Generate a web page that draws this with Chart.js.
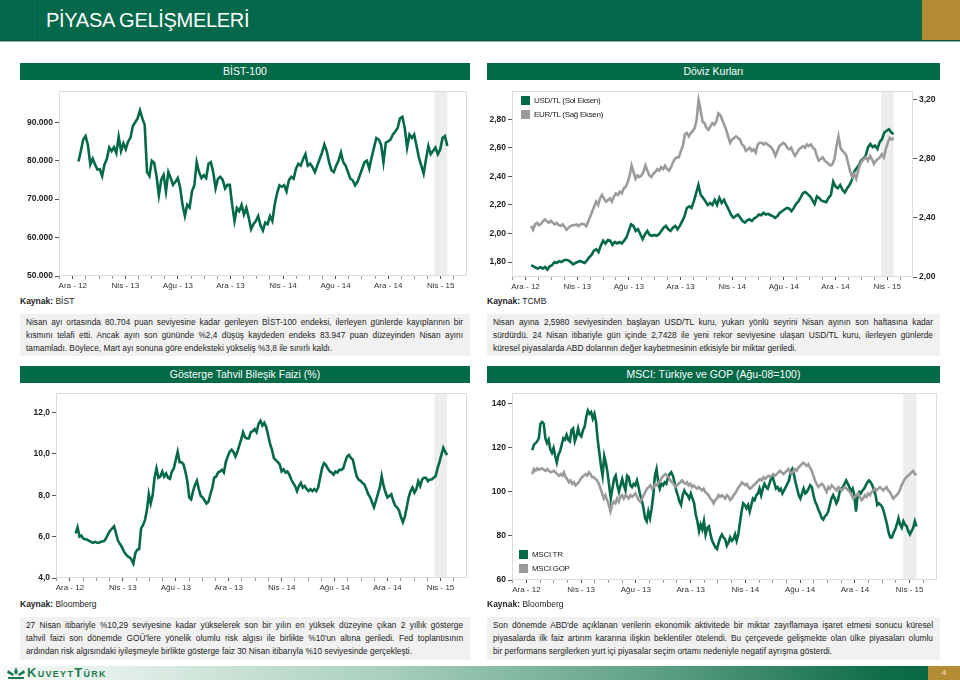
<!DOCTYPE html>
<html lang="tr"><head><meta charset="utf-8">
<script src="https://cdn.jsdelivr.net/npm/chart.js@4/dist/chart.umd.min.js"></script>
<style>
body{margin:0;width:960px;height:680px;position:relative;background:#fff;font-family:'Liberation Sans',Arial,sans-serif;overflow:hidden;color:#222}
.a{position:absolute}
#hdr{left:0;top:0;width:960px;height:40px;background:#03694a;border-bottom:1px solid #18503a;}
#hdrline{left:0;top:41px;width:960px;height:1px;background:#86b9a1}
#hdrstrip{left:37px;top:0;width:1px;height:40px;background:#045c41}
#gold{left:922px;top:0;width:38px;height:40px;background:#b38c34}
#title{left:46px;top:9px;font-size:20px;color:#fff;white-space:nowrap;letter-spacing:-0.3px}
.bar{height:17px;background:#036a47;color:#fff;font-size:10.5px;text-align:center;line-height:17px}
.src{font-size:8.5px;white-space:nowrap}
.src b{font-weight:bold}
.box{background:#f1f1f1;font-size:8.3px;line-height:13px;padding:2px 7px 0 6px;box-sizing:border-box}
.box span{display:block;white-space:nowrap}
.box span.j{text-align:justify;text-align-last:justify;white-space:normal}
.lg{font-size:8px;white-space:nowrap;line-height:9px;letter-spacing:-0.3px}
.lg i{display:inline-block;width:9px;height:9px;vertical-align:top;margin-right:4px}
canvas{position:absolute}
#foot{left:0;top:666px;width:960px;height:14px;background:linear-gradient(to right,#f7faf8 0%,#e3efe9 12%,#a9d0bd 40%,#5fa184 68%,#0f6c49 92%,#06663f 100%)}
#pg{left:928px;top:666px;width:32px;height:14px;background:#b38c34;color:#f3e7c4;font-size:8px;text-align:center;line-height:14px}
#logo{left:27px;top:665px;font-size:13px;font-weight:bold;font-variant:small-caps;color:#1c7a4f;letter-spacing:1.3px;white-space:nowrap}
</style></head>
<body>
<div id="hdr" class="a"></div><div id="hdrline" class="a"></div><div id="hdrstrip" class="a"></div><div id="gold" class="a"></div>
<div id="title" class="a">PİYASA GELİŞMELERİ</div>

<div class="a bar" style="left:20px;top:63px;width:450px">BİST-100</div>
<div class="a bar" style="left:487px;top:63px;width:453px">Döviz Kurları</div>
<div class="a bar" style="left:20px;top:366px;width:450px">Gösterge Tahvil Bileşik Faizi (%)</div>
<div class="a bar" style="left:487px;top:366px;width:453px">MSCI: Türkiye ve GOP (Ağu-08=100)</div>

<canvas id="c1" width="456" height="212" style="left:16px;top:84px"></canvas>
<canvas id="c2" width="453" height="212" style="left:487px;top:84px"></canvas>
<canvas id="c3" width="456" height="212" style="left:16px;top:386px"></canvas>
<canvas id="c4" width="456" height="212" style="left:487px;top:386px"></canvas>

<div class="a lg" style="left:521px;top:96px"><i style="background:#036a47"></i>USD/TL (Sol Eksen)</div>
<div class="a lg" style="left:521px;top:110px"><i style="background:#9a9a9a"></i>EUR/TL (Sağ Eksen)</div>
<div class="a lg" style="left:519px;top:550px"><i style="background:#036a47"></i>MSCI TR</div>
<div class="a lg" style="left:519px;top:564px"><i style="background:#9a9a9a"></i>MSCI GOP</div>

<div class="a src" style="left:20px;top:296px"><b>Kaynak:</b> BİST</div>
<div class="a src" style="left:487px;top:296px"><b>Kaynak:</b> TCMB</div>
<div class="a src" style="left:20px;top:599px"><b>Kaynak:</b> Bloomberg</div>
<div class="a src" style="left:487px;top:599px"><b>Kaynak:</b> Bloomberg</div>

<div class="a box" style="left:20px;top:314px;width:450px;height:42px">
<span class="j">Nisan ayı ortasında 80.704 puan seviyesine kadar gerileyen BİST-100 endeksi, ilerleyen günlerde kayıplarının bir</span>
<span class="j">kısmını telafi etti. Ancak ayın son gününde %2,4 düşüş kaydeden endeks 83.947 puan düzeyinden Nisan ayını</span>
<span>tamamladı. Böylece, Mart ayı sonuna göre endeksteki yükseliş %3,8 ile sınırlı kaldı.</span>
</div>
<div class="a box" style="left:487px;top:314px;width:453px;height:42px">
<span class="j">Nisan ayına 2,5980 seviyesinden başlayan USD/TL kuru, yukarı yönlü seyrini Nisan ayının son haftasına kadar</span>
<span class="j">sürdürdü. 24 Nisan itibariyle gün içinde 2,7428 ile yeni rekor seviyesine ulaşan USD/TL kuru, ilerleyen günlerde</span>
<span>küresel piyasalarda ABD dolarının değer kaybetmesinin etkisiyle bir miktar geriledi.</span>
</div>
<div class="a box" style="left:20px;top:617px;width:450px;height:43px">
<span class="j">27 Nisan itibariyle %10,29 seviyesine kadar yükselerek son bir yılın en yüksek düzeyine çıkan 2 yıllık gösterge</span>
<span class="j">tahvil faizi son dönemde GOÜ'lere yönelik olumlu risk algısı ile birlikte %10'un altına geriledi. Fed toplantısının</span>
<span>ardından risk algısındaki iyileşmeyle birlikte gösterge faiz 30 Nisan itibarıyla %10 seviyesinde gerçekleşti.</span>
</div>
<div class="a box" style="left:487px;top:617px;width:453px;height:43px">
<span class="j">Son dönemde ABD'de açıklanan verilerin ekonomik aktivitede bir miktar zayıflamaya işaret etmesi sonucu küresel</span>
<span class="j">piyasalarda ilk faiz artırım kararına ilişkin beklentiler ötelendi. Bu çerçevede gelişmekte olan ülke piyasaları olumlu</span>
<span>bir performans sergilerken yurt içi piyasalar seçim ortamı nedeniyle negatif ayrışma gösterdi.</span>
</div>

<div id="foot" class="a"></div>
<svg class="a" style="left:6px;top:666px" width="20" height="14" viewBox="0 0 20 14">
<g fill="#1c7a4f"><path d="M10 1 L12 6 L10 9 L8 6 Z"/><path d="M2 4 L8 8 L7 10 L1 7 Z"/><path d="M18 4 L12 8 L13 10 L19 7 Z"/><rect x="2" y="11" width="16" height="2"/></g>
</svg>
<div id="logo" class="a">KuveytTürk</div>
<div id="pg" class="a">4</div>

<script>
// ---- shared axis data ----
const xTickLabels = ['Ara - 12','Nis - 13','Ağu - 13','Ara - 13','Nis - 14','Ağu - 14','Ara - 14','Nis - 15'];
const seriesStart = [2012, 12, 28];
const seriesEnd = [2015, 4, 30];
const aprilBand = [[2015, 4, 1], [2015, 4, 30]];

// ---- BİST-100 ----
const bistTicks = [50000, 60000, 70000, 80000, 90000];
const bist100 = [79800,82500,85500,86400,84000,79000,80500,79000,77700,77800,76000,79000,80500,83400,82500,83500,82000,86200,82500,84500,83000,85000,86000,89000,90000,91000,93100,91000,89300,77000,76000,80000,79500,76000,71000,75000,76300,72000,77000,75500,73700,74500,75500,73000,68500,65600,68500,67800,72000,73600,79600,77000,75500,76200,75500,79200,79600,77000,72800,75300,75800,75000,72800,73700,73700,68500,64300,67700,66900,68500,66000,67700,65200,62200,63500,64300,65600,63100,61800,63900,63500,65600,64300,68600,71500,73600,73200,73600,72000,74900,75800,75300,77900,79200,78700,80400,81700,78700,79200,78300,77000,78700,80400,82100,84200,82500,79600,77500,77000,78700,80000,82100,79600,78700,77000,75300,74900,73600,74500,76200,77900,79600,80000,77900,80800,83400,85900,85500,84200,79600,84700,85000,85500,86800,87600,88500,91000,91400,88500,83400,86800,85900,86800,83800,80800,78700,76600,80400,83800,81700,82500,83400,81700,82900,85900,86400,83800];

// ---- Döviz ----
const usdTicks = [1.8, 2.0, 2.2, 2.4, 2.6, 2.8];
const eurTicks = [2.0, 2.4, 2.8, 3.2];
const usdTl = [1.777,1.77,1.76,1.754,1.765,1.754,1.765,1.747,1.77,1.777,1.80,1.793,1.805,1.80,1.811,1.816,1.811,1.80,1.784,1.793,1.80,1.807,1.80,1.793,1.811,1.834,1.85,1.88,1.89,1.869,1.915,1.95,1.93,1.954,1.95,1.92,1.94,1.93,1.94,1.93,1.95,1.972,2.018,2.064,2.053,2.018,2.03,1.995,1.96,1.995,2.018,1.99,1.984,1.99,1.984,1.995,2.018,2.04,2.053,2.03,2.018,2.04,2.053,2.03,2.053,2.087,2.12,2.179,2.19,2.179,2.225,2.283,2.34,2.27,2.25,2.225,2.20,2.214,2.20,2.236,2.20,2.25,2.214,2.236,2.20,2.168,2.133,2.11,2.122,2.133,2.11,2.087,2.076,2.092,2.10,2.087,2.106,2.115,2.133,2.128,2.145,2.133,2.138,2.128,2.122,2.11,2.122,2.145,2.156,2.168,2.179,2.175,2.156,2.179,2.207,2.225,2.253,2.283,2.29,2.276,2.26,2.236,2.207,2.26,2.248,2.23,2.225,2.22,2.25,2.27,2.363,2.329,2.317,2.34,2.306,2.287,2.317,2.34,2.375,2.432,2.455,2.478,2.513,2.524,2.547,2.605,2.628,2.605,2.616,2.593,2.64,2.662,2.708,2.72,2.731,2.708,2.697];
const eurTl = [2.345,2.32,2.356,2.367,2.35,2.36,2.378,2.389,2.378,2.367,2.38,2.367,2.356,2.367,2.35,2.345,2.356,2.338,2.32,2.334,2.345,2.35,2.35,2.356,2.345,2.356,2.36,2.356,2.345,2.378,2.41,2.444,2.477,2.51,2.488,2.532,2.555,2.53,2.51,2.52,2.532,2.51,2.544,2.566,2.555,2.577,2.566,2.60,2.61,2.643,2.687,2.754,2.71,2.665,2.687,2.676,2.687,2.71,2.754,2.72,2.687,2.676,2.698,2.71,2.73,2.72,2.743,2.73,2.754,2.73,2.72,2.743,2.776,2.80,2.81,2.81,2.853,2.886,2.964,2.975,2.952,2.975,2.986,3.008,3.063,3.196,3.13,3.052,3.041,3.008,2.997,3.019,3.041,3.03,3.052,3.107,3.096,3.063,3.03,2.997,2.952,2.908,2.93,2.941,2.952,2.941,2.93,2.897,2.886,2.853,2.864,2.875,2.853,2.864,2.842,2.897,2.908,2.908,2.897,2.908,2.897,2.886,2.875,2.853,2.82,2.853,2.886,2.897,2.908,2.897,2.875,2.864,2.875,2.842,2.82,2.842,2.864,2.875,2.886,2.875,2.897,2.886,2.897,2.875,2.864,2.82,2.787,2.798,2.81,2.787,2.776,2.765,2.754,2.765,2.80,2.886,2.952,2.875,2.853,2.842,2.82,2.765,2.71,2.676,2.698,2.665,2.72,2.765,2.787,2.798,2.81,2.787,2.82,2.798,2.765,2.787,2.798,2.81,2.83,2.81,2.864,2.908,2.941,2.93,2.941];

// ---- Gösterge tahvil ----
const bondTicks = [4, 6, 8, 10, 12];
const bondYield = [6.16,6.45,6.0,6.05,5.9,5.88,5.85,5.8,5.75,5.7,5.75,5.72,5.7,5.75,5.76,5.8,5.95,6.15,6.3,6.4,6.5,6.15,5.8,5.65,5.5,5.3,5.15,5.05,5.0,4.9,4.7,5.2,5.36,5.4,6.4,6.55,6.8,7.26,8.05,7.6,8.0,8.85,9.3,8.85,8.9,9.15,8.9,9.05,8.85,8.8,9.15,9.3,9.7,10.1,9.6,9.6,9.5,9.15,8.7,7.9,7.8,8.2,8.5,8.7,8.3,7.97,7.9,7.75,7.6,7.68,8.05,8.37,8.85,8.9,9.1,9.15,9.23,9.1,9.6,9.87,10.1,10.2,10.1,9.87,10.1,10.4,10.7,11.05,10.8,10.75,10.75,11.05,11.1,11.2,11.05,11.45,11.6,11.37,11.5,11.3,10.9,10.5,10.2,9.8,9.7,9.6,9.5,9.15,9.25,9.1,9.15,9.0,8.76,8.6,8.45,8.2,8.45,8.6,8.37,8.45,8.3,8.2,8.3,8.2,8.3,8.2,8.37,8.85,9.3,9.55,9.47,9.3,9.15,9.1,9.0,9.15,9.1,9.23,9.23,9.3,9.6,9.87,9.95,9.8,9.73,9.3,8.92,8.76,8.7,8.6,8.52,8.3,8.05,7.9,7.66,7.42,7.73,8.05,8.37,8.92,8.45,8.13,7.9,7.97,8.05,7.73,7.5,7.42,7.26,6.95,6.7,6.95,7.42,7.9,8.2,8.37,8.13,8.3,8.68,8.45,8.76,8.85,8.85,8.68,8.76,8.76,8.85,8.92,9.3,9.6,9.95,10.3,10.1,9.95];

// ---- MSCI ----
const msciTicks = [60, 80, 100, 120, 140];
const msciTr = [119,121.5,122.2,123,124.4,131,131.8,131,124.4,122.2,123.7,119.3,117.8,120,116.3,113.3,117,118.5,121.5,124.4,123.7,125.9,123.7,123,128.1,128.9,123,125.2,128.9,125.9,125.2,128.1,129.6,134,137,135.5,136.3,133.3,135.5,131.8,123.7,117.8,111.8,107.4,116.3,113.3,108.9,103,97,101.5,105.9,107.4,103,100,103,105.9,103,100.7,107.4,106.7,103,102.2,103.7,103,105.2,102.2,98.5,96.3,92.6,88.1,86.7,91.1,88.1,92.6,98.5,107.4,110.4,104.4,101.5,103.7,103,104.4,103.7,106.7,108.1,108.9,107.4,104.4,100.7,98.5,95.6,94.1,98.5,100.7,99.3,98.5,97,99.3,97,94.8,89.6,86.7,82.2,85.2,83,86.7,80.7,83.7,84.4,80.7,77.8,76.3,74.8,74.1,77,79.3,80.7,79.3,78.5,75.6,77,79.3,77.8,78.5,80.7,77.8,80.7,85.9,91.1,94.8,94.1,92.6,94.1,91.1,94.1,97,96.3,98.5,99.3,101.5,98.5,101.5,103.7,102.2,101.5,103.7,105.9,106.7,104.4,101.5,102.2,100.7,101.5,99.3,100.7,102.2,103.7,105.2,108.9,110.4,108.1,104.4,101.5,98.5,97,99.3,101.5,99.3,100,101.5,103,102.2,98.5,95.6,94.1,91.9,90.4,88.1,87.4,88.9,89.6,91.1,94.1,97,98.5,97,94.8,96.3,100,101.5,102.2,103.7,105.2,103.7,102.2,100,101.5,98.5,91.1,98.5,100,99.3,100.7,101.5,103,104.4,105.2,104.4,103,100.7,98.5,94.1,94.8,94.1,93.3,91.1,88.1,85.2,81.5,79.3,79.3,81.5,83,85.2,88.1,85.2,83.7,86.7,85.2,84.4,82.2,80.7,82.2,83.7,86.7,84.4];
const msciGop = [108.1,110.4,109.6,110.7,110.1,110.4,110.7,110.1,109.6,110.4,109.6,108.9,109.2,109.6,108.9,108.1,107.4,108.1,107.4,108.9,106.7,105.9,104.4,105.2,103.7,104.4,103,103.7,104.4,105.9,106.7,107.4,108.1,107.4,108.9,108.1,106.7,106.7,105.9,105.2,103.7,101.5,99.3,97,98.5,96.3,94.1,91.1,94.1,95.6,94.8,97,95.6,97.8,98.5,97,98.5,97.8,97,98.5,97.8,98.5,99.3,97.8,96.3,95.6,97,98.5,100,101.5,102.2,103,101.5,102.2,103.7,103,104.4,105.2,106.7,107.4,108.1,107.4,106.7,105.2,104.4,103.7,102.2,103,103.7,104.4,105.2,104.4,103.7,104.4,103,103.7,102.2,103,102.2,101.5,102.2,101.5,100.7,101.5,100,99.3,98.5,97,96.3,94.8,96.3,97,98.5,97.8,98.5,97.8,97,98.5,97.8,96.3,97,98.5,99.3,100.7,102.2,103,104.4,103.7,103,103.7,102.2,101.5,102.2,103,103.7,104.4,105.2,105.9,105.2,106.7,105.9,106.7,107.4,106.7,107.4,108.1,107.4,108.1,108.9,109.6,108.9,108.1,108.9,109.6,110.4,108.9,108.1,109.6,110.4,109.6,111.1,111.8,112.6,113.3,112.6,111.8,112.6,111.1,109.6,107.4,105.2,103.7,102.2,103,103.7,103,101.5,100,102.2,101.5,103,102.2,101.5,100.7,102.2,101.5,100.7,101.5,102.2,101.5,100.7,100,98.5,97,97.8,98.5,99.3,97.8,96.3,97,98.5,97.8,99.3,98.5,100,100.7,101.5,100.7,101.5,102.2,101.5,100.7,101.5,102.2,100.7,100,98.5,97,97.8,98.5,99.3,100.7,103,104.4,105.9,106.7,107.4,108.1,108.9,109.6,108.1,107.7];

// ---- helpers ----
const GREEN = '#046a46', GRAY = '#9b9b9b';
function monthIndex(d) { return (d[0] - 2012) * 12 + (d[1] - 12) + (d[2] - 15) / 30; }
function toPoints(vals) {
  const a = monthIndex(seriesStart), b = monthIndex(seriesEnd);
  return vals.map((v, i) => ({ x: a + (b - a) * i / (vals.length - 1), y: v }));
}
const trNum = (v, dec) => v.toFixed(dec).replace('.', ',');

const framePlugin = {
  id: 'frame',
  beforeDatasetsDraw(chart, args, opts) {
    const { ctx, chartArea: a } = chart;
    const x = chart.scales.x;
    ctx.save();
    if (opts.band) {
      const x1 = x.getPixelForValue(monthIndex(opts.band[0]));
      const x2 = x.getPixelForValue(monthIndex(opts.band[1]));
      ctx.fillStyle = '#ededed';
      ctx.fillRect(x1, a.top + 1, x2 - x1, a.bottom - a.top - 2);
    }
    ctx.strokeStyle = '#dcdcdc';
    ctx.lineWidth = 1;
    ctx.strokeRect(Math.round(a.left) + 0.5, Math.round(a.top) + 0.5, Math.round(a.width) - 1, Math.round(a.height) - 1);
    ctx.restore();
  }
};
Chart.register(framePlugin);

function xScale(h) {
  return {
    type: 'linear', min: -1.05, max: 30,
    afterBuildTicks: s => { const t = []; for (let v = -1; v <= 29; v++) t.push({ value: v }); s.ticks = t; },
    afterFit: s => { s.height = h; },
    grid: { drawOnChartArea: false, drawTicks: true, tickLength: 3,
      tickColor: c => (c.tick && c.tick.value % 4 === 0) ? '#555' : '#999' },
    border: { display: false },
    ticks: { autoSkip: false, maxRotation: 0, minRotation: 0, padding: 2, color: '#333',
      font: { size: 8, family: 'Liberation Sans' },
      callback: v => (v >= 0 && v % 4 === 0 && v / 4 < xTickLabels.length) ? xTickLabels[v / 4] : '' }
  };
}
function yScale(pos, w, min, max, ticks, fmt) {
  return {
    type: 'linear', position: pos, min, max,
    afterBuildTicks: s => { s.ticks = ticks.map(v => ({ value: v })); },
    afterFit: s => { s.width = w; },
    grid: { drawOnChartArea: false, drawTicks: true, tickLength: 4, tickColor: '#555' },
    border: { display: false },
    ticks: { padding: 2, color: '#222', font: { size: 8.5, weight: 'bold', family: 'Liberation Sans' }, callback: fmt }
  };
}
function line(vals, color, axis) {
  return { data: toPoints(vals), borderColor: color, backgroundColor: color, borderWidth: 2.6,
    pointRadius: 0, tension: 0, fill: false, yAxisID: axis || 'y' };
}
function baseOpts(pad, scales) {
  return {
    responsive: false, animation: false, events: [],
    layout: { padding: pad },
    plugins: { legend: { display: false }, tooltip: { enabled: false }, frame: { band: aprilBand } },
    scales
  };
}

new Chart(document.getElementById('c1'), {
  type: 'line',
  data: { datasets: [line(bist100, GREEN)] },
  options: baseOpts({ top: 3, right: 5, left: 0, bottom: 0 }, {
    x: xScale(20),
    y: yScale('left', 43, 50000, 98100, bistTicks, v => (v / 1000) + '.000')
  })
});

new Chart(document.getElementById('c2'), {
  type: 'line',
  data: { datasets: [line(eurTl, GRAY, 'y1'), line(usdTl, GREEN, 'y')] },
  options: baseOpts({ top: 4, right: 0, left: 0, bottom: 0 }, {
    x: xScale(19),
    y: yScale('left', 25, 1.695, 2.998, usdTicks, v => trNum(v, 2)),
    y1: yScale('right', 27, 2.0, 3.258, eurTicks, v => trNum(v, 2))
  })
});

new Chart(document.getElementById('c3'), {
  type: 'line',
  data: { datasets: [line(bondYield, GREEN)] },
  options: baseOpts({ top: 3, right: 5, left: 0, bottom: 0 }, {
    x: xScale(20),
    y: yScale('left', 40, 4, 12.94, bondTicks, v => trNum(v, 1))
  })
});

new Chart(document.getElementById('c4'), {
  type: 'line',
  data: { datasets: [line(msciGop, GRAY), line(msciTr, GREEN)] },
  options: baseOpts({ top: 3, right: 6, left: 0, bottom: 0 }, {
    x: xScale(18),
    y: yScale('left', 25, 60, 144.9, msciTicks, v => String(v))
  })
});
</script>
</body></html>
